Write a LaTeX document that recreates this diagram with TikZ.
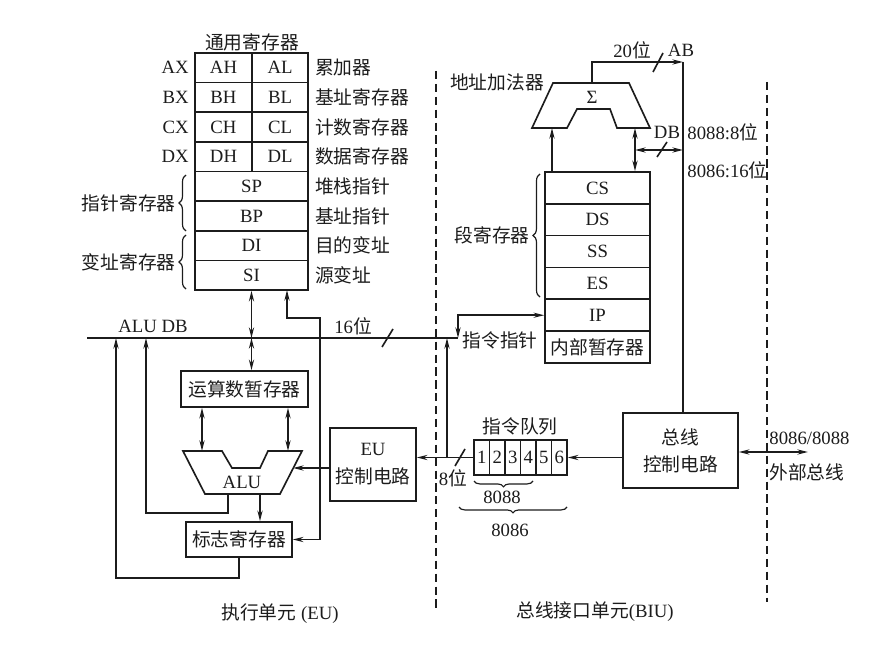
\documentclass[tikz,border=0pt]{standalone}
\usepackage{fontspec}
\setmainfont{Liberation Serif}
\newfontfamily\cjk{Noto Sans CJK SC}
\usetikzlibrary{arrows.meta,decorations.pathreplacing}
\definecolor{cpuink}{HTML}{1C1C1C}

\begin{document}
\begin{tikzpicture}[x=0.03cm,y=-0.03cm,>={Stealth[length=9pt,width=4.4pt]},font=\fontsize{16pt}{19pt}\selectfont]
  \tikzstyle{regbox}=[draw=cpuink, line width=1.4pt, inner sep=0pt, text=cpuink]
  \tikzstyle{tag}=[inner sep=1pt, text=cpuink]
  \tikzstyle{wire}=[draw=cpuink, line width=1.4pt]
  \tikzstyle{sep}=[draw=cpuink, line width=1.3pt, dash pattern=on 7pt off 4pt]
  \tikzstyle{brc}=[draw=cpuink, line width=1pt, decorate, decoration={brace, amplitude=6pt}]
  \tikzstyle{brcd}=[draw=cpuink, line width=1pt, decorate, decoration={brace, mirror, amplitude=5pt}]

  \useasboundingbox (0,0) rectangle (879,651);

  \node[tag] (gptitle) at (252,42) {\cjk 通用寄存器};
  \foreach \hi/\lo/\xr/\desc [count=\i from 0] in {AH/AL/AX/累加器, BH/BL/BX/基址寄存器, CH/CL/CX/计数寄存器, DH/DL/DX/数据寄存器} {
    \node[regbox, minimum width=1.71cm, minimum height=0.89cm] (\hi) at (223.5,67.8+29.625*\i) {\hi};
    \node[regbox, minimum width=1.68cm, minimum height=0.89cm] (\lo) at (280,67.8+29.625*\i) {\lo};
    \node[tag, anchor=east] (\xr) at ([xshift=-0.12cm]\hi.west) {\xr};
    \node[tag, anchor=west] (n\xr) at ([xshift=0.15cm]\lo.east) {\cjk \desc};
  }
  \foreach \rg/\desc [count=\i from 4] in {SP/堆栈指针, BP/基址指针, DI/目的变址, SI/源变址} {
    \node[regbox, minimum width=3.39cm, minimum height=0.89cm] (\rg) at (251.5,67.8+29.625*\i) {\rg};
    \node[tag, anchor=west] (n\rg) at ([xshift=0.15cm]\rg.east) {\cjk \desc};
  }
  \draw[brc] (186,231) -- (186,175);
  \node[tag, anchor=east] (ptrlbl) at (177,203) {\cjk 指针寄存器};
  \draw[brc] (186,289) -- (186,235);
  \node[tag, anchor=east] (idxlbl) at (177,262) {\cjk 变址寄存器};

  \foreach \rg [count=\i from 0] in {CS,DS,SS,ES,IP} {
    \node[regbox, minimum width=3.15cm, minimum height=0.955cm] (\rg) at (597.5,187.9+31.83*\i) {\rg};
  }
  \node[regbox, minimum width=3.15cm, minimum height=0.955cm] (tmpreg) at (597.5,347.1) {\cjk 内部暂存器};
  \draw[brc] (540,297) -- (540,174);
  \node[tag, anchor=east] (seglbl) at (531,235) {\cjk 段寄存器};

  \draw[wire] (553,83) -- (629,83) -- (650,128) -- (617,128) -- (610,109) -- (577,109) -- (567,128) -- (532,128) -- cycle;
  \node[tag] (sigma) at (592,97) {Σ};
  \node[tag] (addlbl) at (497,82) {\cjk 地址加法器};
  \coordinate (adL) at (552,128);
  \coordinate (adR) at (635,128);
  \coordinate (adT) at (592,83);
  \coordinate (abV) at (683,62);
  \coordinate (dbJ) at (635,150);

  \node[regbox, minimum width=3.45cm, minimum height=2.25cm, align=center] (bcc) at (680.5,450.5) {\cjk 总线\\[4pt]\cjk 控制电路};
  \node[regbox, minimum width=2.58cm, minimum height=2.19cm, align=center] (euc) at (373,464.5) {EU\\[5pt]\cjk 控制电路};
  \node[regbox, minimum width=3.81cm, minimum height=1.08cm] (opnd) at (244.5,389) {\cjk 运算数暂存器};
  \node[regbox, minimum width=3.18cm, minimum height=1.05cm] (flags) at (239,539.5) {\cjk 标志寄存器};

  \draw[wire,->] (CS.north -| adL) -- (adL);
  \draw[wire,<->] (adR) -- (CS.north -| adR);
  \draw[wire,->] (adT) |- (abV);
  \draw[wire] (abV) -- (bcc.north -| abV);
  \draw[wire,<->] (dbJ) -- (dbJ -| abV);
  \draw[wire] (653,72) -- (663,53);
  \draw[wire] (657,157) -- (667,142);
  \node[tag] (n20) at (632,50) {20{\cjk 位}};
  \node[tag] (nab) at (681,50) {AB};
  \node[tag] (ndb) at (667,132) {DB};
  \node[tag, anchor=west] (w8088) at (686,132) {8088:8{\cjk 位}};
  \node[tag, anchor=west] (w8086) at (686,170) {8086:16{\cjk 位}};

  \coordinate (dbL) at (87,338);
  \coordinate (dbR) at (458,338);
  \draw[wire] (dbL) -- (dbR);
  \draw[wire] (382,347) -- (393,329);
  \node[tag] (aludb) at (153,326) {ALU DB};
  \node[tag] (n16) at (353,326) {16{\cjk 位}};

  \draw[wire,<->] (SI.south) -- (SI.south |- dbL);
  \draw[wire,<->] (SI.south |- dbL) -- (SI.south |- opnd.north);

  \draw[wire] (183,451) -- (222,451) -- (232,468) -- (260,468) -- (268,451) -- (302,451) -- (280,494) -- (205,494) -- cycle;
  \node[tag] (alutxt) at (242,482) {ALU};
  \coordinate (aluL) at (202,451);
  \coordinate (aluR) at (288,451);
  \coordinate (aluE) at (293,468);
  \coordinate (aluB1) at (228,494);
  \coordinate (aluB2) at (260,494);
  \draw[wire,<->] (opnd.south -| aluL) -- (aluL);
  \draw[wire,<->] (opnd.south -| aluR) -- (aluR);
  \draw[wire,->] (euc.west |- aluE) -- (aluE);
  \draw[wire,->] (aluB2) -- (aluB2 |- flags.north);

  \coordinate (fb1) at (146,513);
  \coordinate (fb2) at (116,578);
  \coordinate (rt) at (320,318);
  \coordinate (siR) at (287,290);
  \draw[wire,->] (aluB1) |- (fb1) -- (fb1 |- dbL);
  \draw[wire,->] (flags.south) |- (fb2) -- (fb2 |- dbL);
  \draw[wire,<->] (flags.east) -| (rt) -| (siR);

  \foreach \k in {1,...,6} {
    \node[regbox, minimum width=0.465cm, minimum height=1.05cm] (q\k) at (466.25+15.5*\k,457.5) {\k};
  }
  \node[tag] (qlbl) at (520,426) {\cjk 指令队列};
  \draw[brcd] (474,481) -- (533,481);
  \node[tag] (n8088) at (502,497) {8088};
  \draw[brcd] (459,507) -- (567,507);
  \node[tag] (n8086) at (510,530) {8086};

  \coordinate (qT) at (447,458);
  \draw[wire,->] (bcc.west |- q6.east) -- (q6.east);
  \draw[wire,->] (q1.west) -- (q1.west -| euc.east);
  \draw[wire] (455,466) -- (465,449);
  \node[tag] (n8bit) at (453,478) {8{\cjk 位}};
  \draw[wire,->] (qT) -- (qT |- dbL);
  \draw[wire,<->] (dbR) |- (IP.west);
  \node[tag] (iplbl) at (500,340) {\cjk 指令指针};

  \coordinate (ext) at (808,452);
  \draw[wire,<->] (bcc.east |- ext) -- (ext);
  \node[tag, anchor=west] (extA) at (768,438) {8086/8088};
  \node[tag, anchor=west] (extB) at (768,472) {\cjk 外部总线};

  \draw[sep] (436,71) -- (436,610);
  \draw[sep] (767,82) -- (767,602);

  \node[tag] (eulbl) at (280,614) {{\cjk 执行单元} (EU)};
  \node[tag] (biulbl) at (595,612) {{\cjk 总线接口单元}(BIU)};
\end{tikzpicture}
\end{document}
